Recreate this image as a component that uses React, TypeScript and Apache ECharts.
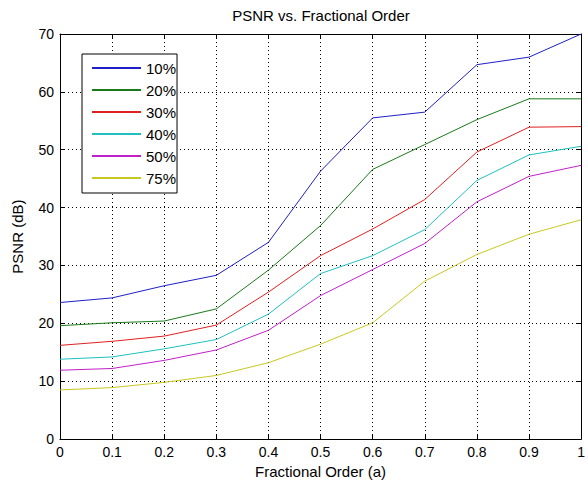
import React, { useEffect, useRef } from "react";
import * as echarts from "echarts";

const orders = [0, 0.1, 0.2, 0.3, 0.4, 0.5, 0.6, 0.7, 0.8, 0.9, 1.0];
const names = ["10%", "20%", "30%", "40%", "50%", "75%"];
const s10 = [23.6, 24.4, 26.5, 28.3, 34.0, 46.3, 55.5, 56.5, 64.7, 66.0, 70.0];
const s20 = [19.6, 20.1, 20.4, 22.5, 29.2, 36.9, 46.6, 50.9, 55.2, 58.8, 58.8];
const s30 = [16.2, 16.9, 17.8, 19.7, 25.4, 31.7, 36.3, 41.4, 49.6, 53.9, 54.0];
const s40 = [13.8, 14.2, 15.6, 17.2, 21.6, 28.6, 31.7, 36.2, 44.7, 49.1, 50.6];
const s50 = [11.9, 12.2, 13.6, 15.4, 18.8, 24.8, 29.3, 33.8, 41.0, 45.4, 47.3];
const s75 = [8.5, 8.9, 9.8, 11.0, 13.2, 16.4, 20.1, 27.3, 31.9, 35.4, 37.9];
const allSeries = [s10, s20, s30, s40, s50, s75];
const colors = ["#1f1fc8", "#1a7a1a", "#e02020", "#20c0c0", "#c020c8", "#c8c820"];

export default function App() {
  const ref = useRef<HTMLDivElement>(null);
  useEffect(() => {
    if (!ref.current) return;
    const chart = echarts.init(ref.current, null, { renderer: "svg" });
    const font = "Liberation Sans, Arial, sans-serif";
    const fmt = (v: number) => String(+Number(v).toFixed(1));
    const grid = { left: 60, top: 34, right: 6, bottom: 43 };
    chart.setOption({
      animation: false,
      backgroundColor: "#fff",
      textStyle: { fontFamily: font },
      title: {
        text: "PSNR vs. Fractional Order",
        left: 321,
        top: 8,
        padding: 0,
        textAlign: "center",
        textStyle: { fontSize: 15, fontWeight: "normal", color: "#000", fontFamily: font },
      },
      legend: {
        orient: "vertical",
        left: 82,
        top: 54,
        data: names,
        itemWidth: 49,
        itemHeight: 16,
        itemGap: 6,
        padding: [6, 1, 7, 9],
        borderColor: "#000",
        borderWidth: 1,
        backgroundColor: "#fff",
        itemStyle: { color: "rgba(0,0,0,0)", borderWidth: 0, opacity: 0 },
        textStyle: { fontSize: 15, lineHeight: 16, color: "#000", fontFamily: font },
      },
      grid,
      xAxis: [
        {
          type: "value",
          min: 0,
          max: 1,
          interval: 0.1,
          name: "Fractional Order (a)",
          nameLocation: "middle",
          nameGap: 22,
          nameTextStyle: { fontSize: 15, color: "#000", fontFamily: font },
          axisLine: { show: true, onZero: false, lineStyle: { color: "#000", width: 1 } },
          axisTick: { show: true, inside: true, length: 5, lineStyle: { color: "#000" } },
          axisLabel: { formatter: fmt, fontSize: 14, color: "#000", margin: 6, fontFamily: font },
          splitLine: { show: true, lineStyle: { color: "#000", type: [1, 3], width: 1 } },
        },
        {
          type: "value",
          position: "top",
          min: 0,
          max: 1,
          interval: 0.1,
          axisLine: { show: true, onZero: false, lineStyle: { color: "#000", width: 1 } },
          axisTick: { show: true, inside: true, length: 5, lineStyle: { color: "#000" } },
          axisLabel: { show: false },
          splitLine: { show: false },
        },
      ],
      yAxis: [
        {
          type: "value",
          min: 0,
          max: 70,
          interval: 10,
          name: "PSNR (dB)",
          nameLocation: "middle",
          nameGap: 35,
          nameTextStyle: { fontSize: 15, color: "#000", fontFamily: font },
          axisLine: { show: true, onZero: false, lineStyle: { color: "#000", width: 1 } },
          axisTick: { show: true, inside: true, length: 5, lineStyle: { color: "#000" } },
          axisLabel: { fontSize: 14, color: "#000", margin: 6, fontFamily: font },
          splitLine: { show: true, lineStyle: { color: "#000", type: [1, 3], width: 1 } },
        },
        {
          type: "value",
          position: "right",
          min: 0,
          max: 70,
          interval: 10,
          axisLine: { show: true, onZero: false, lineStyle: { color: "#000", width: 1 } },
          axisTick: { show: true, inside: true, length: 5, lineStyle: { color: "#000" } },
          axisLabel: { show: false },
          splitLine: { show: false },
        },
      ],
      series: allSeries.map((vals, i) => ({
        type: "line",
        name: names[i],
        data: orders.map((x, j) => [x, vals[j]]),
        symbol: "none",
        lineStyle: { color: colors[i], width: 1 },
        itemStyle: { color: colors[i] },
        xAxisIndex: 0,
        yAxisIndex: 0,
      })),
    });
    return () => chart.dispose();
  }, []);
  return <div ref={ref} style={{ width: 588, height: 484, position: "absolute", left: 0, top: 0 }} />;
}
